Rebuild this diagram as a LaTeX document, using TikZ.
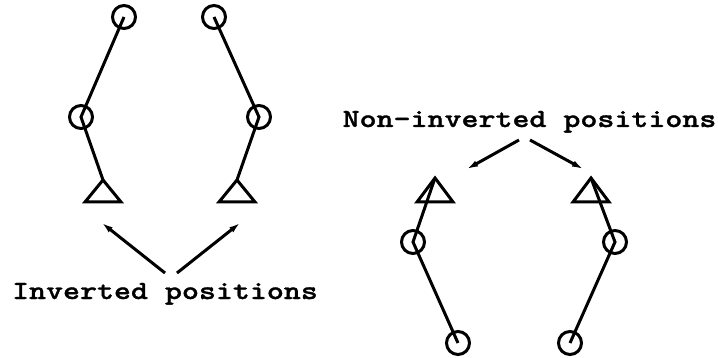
\documentclass[tikz,border=0pt]{standalone}
\usepackage{fontspec}
\usetikzlibrary{arrows.meta}
\newfontfamily\lblfont[FakeStretch=1.235,FakeBold=1.2]{lmmonolt10-bold.otf}
\begin{document}
\begin{tikzpicture}[x=1pt,y=-1pt,
  joint/.style={circle,draw,minimum size=23pt,inner sep=0pt,line width=3pt},
  link/.style={line width=3pt},
  base/.style={line width=3pt,line join=miter},
  ptr/.style={line width=3pt,-{Latex[length=11pt,width=6.5pt]}},
  lbl/.style={font=\fontsize{26.2}{30}\lblfont,anchor=base,inner sep=0pt}]
\useasboundingbox (0,0) rectangle (718,358);
% inverted, left
\node[joint] (c1) at (124,17) {};
\node[joint] (c2) at (81,117) {};
\coordinate (t1) at (103,180);
% inverted, right
\node[joint] (c3) at (214,17) {};
\node[joint] (c4) at (259,117) {};
\coordinate (t2) at (237,180);
% non-inverted, left
\coordinate (t3) at (435,178);
\node[joint] (c5) at (413,242) {};
\node[joint] (c6) at (458,343) {};
% non-inverted, right
\coordinate (t4) at (591,178);
\node[joint] (c7) at (615,242) {};
\node[joint] (c8) at (570,343) {};
% links
\draw[link] (c1.center) -- (c2.center) -- (t1);
\draw[link] (c3.center) -- (c4.center) -- (t2);
\draw[link] (t3) -- (c5.center) -- (c6.center);
\draw[link] (t4) -- (c7.center) -- (c8.center);
% bases
\draw[base] (t1) -- ++(-18,22) -- ++(36,0) -- cycle;
\draw[base] (t2) -- ++(-18,22) -- ++(36,0) -- cycle;
\draw[base] (t3) -- ++(-18,24) -- ++(36,0) -- cycle;
\draw[base] (t4) -- ++(-18,24) -- ++(36,0) -- cycle;
% labels
\node[lbl] (inv) at (165,299) {Inverted positions};
\node[lbl] (ninv) at (529.5,127) {Non-inverted positions};
% arrows
\coordinate (a1) at (165,273);
\coordinate (a1e) at (102,223);
\coordinate (a2) at (177,273);
\coordinate (a2e) at (240,223);
\coordinate (a3) at (519,140);
\coordinate (a3e) at (467,169);
\coordinate (a4) at (530,140);
\coordinate (a4e) at (583,169);
\draw[ptr] (a1) -- (a1e);
\draw[ptr] (a2) -- (a2e);
\draw[ptr] (a3) -- (a3e);
\draw[ptr] (a4) -- (a4e);
\end{tikzpicture}
\end{document}
